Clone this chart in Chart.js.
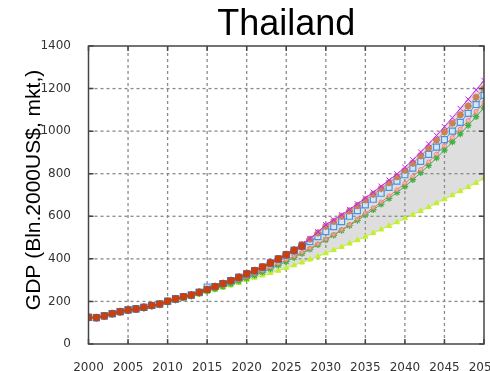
<!DOCTYPE html>
<html>
<head>
<meta charset="utf-8">
<script src="https://cdn.jsdelivr.net/npm/chart.js@4.4.1/dist/chart.umd.min.js"></script>
<style>
  html, body { margin: 0; padding: 0; background: #fff; }
  canvas { display: block; }
</style>
</head>
<body>
<canvas id="gdpChart" width="490" height="371"></canvas>
<script>
// Thailand GDP (Bln. 2000 US$, market rates), history and scenarios
const chartTitle = 'Thailand';
const yAxisTitle = 'GDP (Bln.2000US$, mkt,)';

const years = [];
for (let y = 2000; y <= 2050; y++) years.push(y);

// observed series, 2000-2027
const historyGdp = [125, 124, 132, 143, 152, 160, 165, 172, 181, 188,
    201, 212, 222, 230, 243, 256, 270, 284, 298, 313,
    330, 345, 362, 381, 400, 420, 440, 460];

// scenario series, 2000-2050
const magentaGdp = [125, 124, 132, 143, 152, 160, 165, 172, 181, 188,
    201, 212, 222, 230, 243, 257, 271, 285, 299, 314,
    330, 346, 363, 382, 401, 421, 445, 470, 496, 527,
    560, 583, 607, 632, 658, 686, 713, 741, 770, 799,
    830, 865, 902, 940, 980, 1021, 1063, 1106, 1150, 1194, 1238];
const tanGdp = [125, 124, 132, 143, 152, 160, 165, 172, 181, 188,
    201, 212, 222, 230, 243, 256, 270, 284, 298, 313,
    330, 345, 362, 381, 400, 420, 443, 467, 492, 522,
    553, 576, 600, 625, 650, 677, 703, 730, 758, 786,
    815, 849, 884, 920, 958, 997, 1037, 1077, 1118, 1159, 1200];
const blueGdp = [125, 124, 132, 143, 152, 160, 165, 172, 181, 188,
    201, 212, 222, 230, 243, 268, 270, 284, 298, 313,
    328, 343, 360, 378, 397, 417, 437, 459, 481, 504,
    528, 551, 575, 600, 626, 653, 680, 708, 736, 765,
    795, 826, 858, 891, 925, 960, 1000, 1041, 1083, 1125, 1168];
const pinkGdp = [125, 124, 132, 143, 152, 160, 165, 172, 181, 188,
    200, 210, 220, 228, 240, 252, 264, 276, 289, 302,
    316, 330, 345, 361, 378, 395, 412, 430, 449, 470,
    492, 514, 537, 561, 587, 614, 640, 667, 695, 724,
    755, 787, 820, 855, 892, 932, 970, 1010, 1050, 1092, 1135];
const greenGdp = [122, 123, 129, 139, 148, 155, 161, 168, 176, 183,
    196, 206, 216, 224, 236, 248, 259, 270, 282, 295,
    308, 322, 337, 353, 370, 387, 406, 425, 445, 466,
    489, 511, 534, 557, 581, 606, 631, 657, 684, 712,
    740, 772, 805, 839, 874, 911, 949, 987, 1027, 1068, 1110];
const yellowGdp = [121, 122, 128, 137, 146, 153, 159, 166, 174, 181,
    194, 203, 212, 220, 232, 245, 254, 264, 275, 287,
    300, 311, 322, 333, 344, 356, 370, 383, 397, 411,
    426, 441, 456, 472, 488, 504, 521, 538, 555, 572,
    590, 607, 625, 643, 661, 680, 699, 718, 737, 757, 778];

const yTicks = [0, 200, 400, 600, 800, 1000, 1200, 1400];
const xTicks = [2000, 2005, 2010, 2015, 2020, 2025, 2030, 2035, 2040, 2045, 2050];

const toPoints = vals => vals.map((v, i) => ({ x: years[i], y: v }));

function series(label, vals, color, style, extra) {
    return Object.assign({
        label: label,
        data: toPoints(vals),
        borderColor: color,
        backgroundColor: color,
        pointBorderColor: color,
        pointBackgroundColor: color,
        pointStyle: style,
        pointRadius: 3.5,
        pointBorderWidth: 1.2,
        borderWidth: 1,
        tension: 0,
        fill: false
    }, extra || {});
}

const datasets = [
    series('history', historyGdp, '#c9400e', 'star', { order: 0, pointRadius: 3.8, pointBorderWidth: 2, borderWidth: 1.5 }),
    series('history-box', historyGdp, '#4272b8', 'rect', { order: 1, pointRadius: 4.2, showLine: false }),
    series('magenta', magentaGdp, '#cc22ff', 'crossRot', { order: 2, pointRadius: 3.8, pointBorderWidth: 1 }),
    series('tan', tanGdp, '#c8825a', 'star', { order: 3, pointRadius: 3.6, pointBorderWidth: 2 }),
    series('blue', blueGdp, '#4a93dc', 'rect', { order: 4, pointRadius: 4.2, pointBackgroundColor: '#d4e6f8', pointBorderWidth: 1.2 }),
    series('pink', pinkGdp, '#f07272', 'circle', { order: 5, pointRadius: 2, pointBorderWidth: 0.8, pointBackgroundColor: 'rgba(255,190,190,0.6)' }),
    series('green', greenGdp, '#42b045', 'star', { order: 6, pointRadius: 3.3, pointBorderWidth: 1.3 }),
    series('yellow', yellowGdp, '#c2ef30', 'triangle', { order: 7, pointRadius: 3, pointBorderWidth: 1 }),
    // shaded range between the highest and lowest scenario, drawn first
    { label: 'range', data: toPoints(magentaGdp), order: 99, borderWidth: 0, pointRadius: 0,
      backgroundColor: 'rgba(0,0,0,0.13)', fill: { target: 7 } }
];

// dashed grid lines as plain line datasets, over the shading and under the series
const gridStyle = { borderColor: '#8a8a8a', borderWidth: 1.3, borderDash: [3, 3], pointRadius: 0,
    fill: false, order: 98, tension: 0 };
xTicks.slice(1, -1).forEach(t => {
    datasets.push(Object.assign({ label: 'grid-x', data: [{ x: t, y: yTicks[0] }, { x: t, y: yTicks[yTicks.length - 1] }] }, gridStyle));
});
yTicks.slice(1, -1).forEach(t => {
    datasets.push(Object.assign({ label: 'grid-y', data: [{ x: xTicks[0], y: t }, { x: xTicks[xTicks.length - 1], y: t }] }, gridStyle));
});

const textFamily = 'Arial, "Liberation Sans", Helvetica, sans-serif';

// title, axis title, frame and inward tick marks
const framePlugin = {
    id: 'frame',
    afterDraw(chart) {
        const ctx = chart.ctx;
        const a = chart.chartArea;
        const xs = chart.scales.x, ys = chart.scales.y;
        ctx.save();
        ctx.fillStyle = '#000';
        ctx.font = '36px ' + textFamily;
        ctx.textAlign = 'center';
        ctx.textBaseline = 'alphabetic';
        ctx.fillText(chartTitle, (a.left + a.right) / 2, 35);

        ctx.translate(39.5, 190);
        ctx.rotate(-Math.PI / 2);
        ctx.font = '21px ' + textFamily;
        ctx.fillText(yAxisTitle, 0, 0);
        ctx.restore();

        ctx.save();
        ctx.strokeStyle = '#454545';
        ctx.lineWidth = 1.5;
        ctx.setLineDash([]);
        ctx.strokeRect(a.left, a.top, a.right - a.left, a.bottom - a.top);
        ctx.beginPath();
        for (let i = 0; i < xs.ticks.length; i++) {
            const px = xs.getPixelForTick(i);
            ctx.moveTo(px, a.bottom); ctx.lineTo(px, a.bottom - 5);
            ctx.moveTo(px, a.top); ctx.lineTo(px, a.top + 5);
        }
        for (let i = 0; i < ys.ticks.length; i++) {
            const py = ys.getPixelForTick(i);
            ctx.moveTo(a.left, py); ctx.lineTo(a.left + 5, py);
            ctx.moveTo(a.right, py); ctx.lineTo(a.right - 5, py);
        }
        ctx.stroke();
        ctx.restore();
    }
};

const tickFont = { family: '"DejaVu Sans", Verdana, sans-serif', size: 12 };

new Chart(document.getElementById('gdpChart'), {
    type: 'line',
    data: { datasets: datasets },
    options: {
        responsive: false,
        animation: false,
        devicePixelRatio: 1,
        layout: { padding: { top: 46, right: 4.5, left: 0, bottom: 0 } },
        plugins: {
            legend: { display: false },
            tooltip: { enabled: false }
        },
        scales: {
            x: {
                type: 'linear',
                min: 2000,
                max: 2050,
                afterBuildTicks: s => { s.ticks = xTicks.map(v => ({ value: v })); },
                afterFit: s => { s.height = 27; s.paddingLeft = 0; s.paddingRight = 0; },
                ticks: { font: tickFont, color: '#333', padding: 9, maxRotation: 0, autoSkip: false,
                    callback: v => String(v) },
                grid: { display: false },
                border: { display: false }
            },
            y: {
                min: 0,
                max: 1400,
                afterBuildTicks: s => { s.ticks = yTicks.map(v => ({ value: v })); },
                afterFit: s => { s.width = 88.5; s.paddingTop = 0; s.paddingBottom = 0; },
                ticks: { font: tickFont, color: '#333', padding: 9.5, callback: v => String(v) },
                grid: { display: false },
                border: { display: false }
            }
        }
    },
    plugins: [framePlugin]
});
</script>
</body>
</html>
